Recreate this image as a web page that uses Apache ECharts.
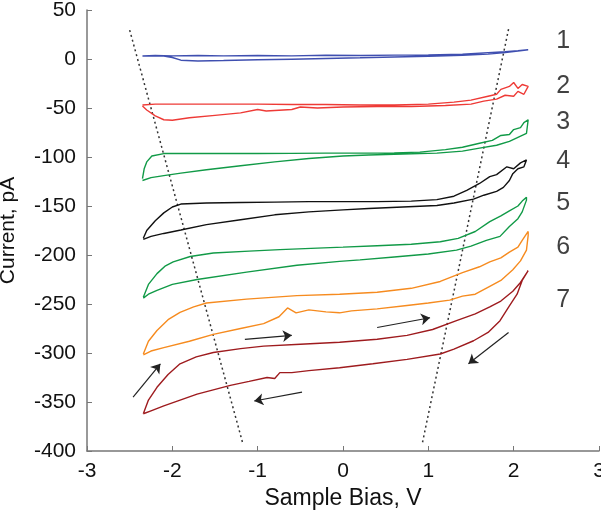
<!DOCTYPE html>
<html><head><meta charset="utf-8">
<script src="https://cdn.jsdelivr.net/npm/echarts@6/dist/echarts.min.js"></script>
<style>html,body{margin:0;padding:0;background:#fff}#c{width:601px;height:512px}</style>
</head><body><div id="c"></div>
<script>
const xTicks = [-3,-2,-1,0,1,2,3];
const yTicks = [50,0,-50,-100,-150,-200,-250,-300,-350,-400];

const curve1Upper = [[-2.35,3],[-2.2,3.5],[-2.0,3.2],[-1.7,3.5],[-1.4,3.2],[-1.0,3.6],[-0.6,3.2],[-0.2,3.8],[0.2,3.5],[0.6,4],[1.0,4.2],[1.4,5],[1.7,6.5],[1.9,7.5],[2.05,8.5],[2.17,9.5]];
const curve1Lower = [[2.17,9.5],[2.05,8],[1.9,6.5],[1.7,5],[1.4,3.8],[1.0,2.8],[0.6,2],[0.2,1.2],[-0.2,0.5],[-0.6,-0.2],[-1.0,-0.8],[-1.4,-1.5],[-1.7,-2],[-1.9,-1.2],[-2.0,1.5],[-2.1,3],[-2.35,3]];

const curve2Upper = [[-2.35,-47],[-2.2,-46],[-1.8,-46],[-1.4,-46],[-1.0,-46],[-0.6,-46.5],[-0.2,-46.5],[0.2,-47],[0.6,-47],[1.0,-46],[1.3,-44],[1.5,-42],[1.7,-38],[1.8,-36],[1.85,-31],[1.95,-28],[2.0,-24],[2.05,-30],[2.1,-26],[2.17,-28]];
const curve2Lower = [[2.17,-30],[2.12,-36],[2.05,-33],[2.0,-38],[1.9,-37],[1.8,-41],[1.65,-43],[1.5,-46],[1.2,-47.5],[0.8,-48.5],[0.4,-48.5],[0,-49],[-0.3,-50],[-0.5,-49],[-0.6,-51.5],[-0.9,-53],[-1.0,-51.5],[-1.2,-55],[-1.5,-57.5],[-1.8,-60],[-2.0,-62.5],[-2.1,-62],[-2.2,-58],[-2.3,-52],[-2.35,-48]];

const curve3Upper = [[-2.35,-122],[-2.33,-112],[-2.3,-105],[-2.24,-99],[-2.1,-96.5],[-1.8,-96.5],[-1.4,-96.5],[-1.0,-96.5],[-0.6,-96.3],[-0.2,-96],[0.2,-96],[0.6,-95.8],[0.9,-95],[1.2,-92.5],[1.4,-90],[1.6,-86],[1.75,-83],[1.85,-78],[1.95,-77],[2.0,-72],[2.08,-70],[2.12,-65],[2.17,-62]];
const curve3Lower = [[2.17,-64],[2.15,-76],[2.05,-80],[1.95,-84],[1.8,-88],[1.6,-91],[1.4,-94],[1.1,-96],[0.7,-97],[0.3,-98],[0,-99],[-0.4,-101.5],[-0.8,-105],[-1.2,-109],[-1.6,-113],[-1.9,-116.5],[-2.1,-119],[-2.25,-121],[-2.35,-124]];

const curve4Upper = [[-2.34,-183],[-2.3,-175],[-2.2,-165],[-2.1,-157],[-2.0,-151],[-1.9,-148],[-1.6,-147],[-1.2,-146.5],[-0.8,-146],[-0.4,-145.5],[0,-145.5],[0.4,-145.5],[0.8,-145],[1.1,-143.5],[1.3,-140],[1.45,-134],[1.6,-127],[1.72,-120],[1.8,-118],[1.92,-110],[2.0,-112],[2.08,-106],[2.15,-103]];
const curve4Lower = [[2.15,-104],[2.12,-110],[2.05,-112],[1.99,-117],[1.95,-124],[1.88,-131],[1.8,-135],[1.65,-139],[1.53,-143],[1.3,-147],[1.1,-149.5],[0.7,-151],[0.3,-152.5],[0,-154],[-0.4,-156],[-0.8,-159],[-1.2,-164],[-1.6,-169],[-1.9,-174.5],[-2.1,-178],[-2.25,-181],[-2.34,-184]];

const curve5Upper = [[-2.34,-243],[-2.28,-230],[-2.18,-219],[-2.08,-211],[-1.99,-207],[-1.79,-201.5],[-1.52,-198],[-1.1,-196],[-0.74,-194.5],[-0.3,-193],[0,-192],[0.4,-190.5],[0.8,-189],[1.14,-186.5],[1.35,-183],[1.55,-176],[1.72,-166],[1.85,-160],[1.95,-155],[2.05,-150],[2.1,-145],[2.15,-141]];
const curve5Lower = [[2.15,-144],[2.1,-156],[2.05,-163],[1.95,-171],[1.84,-181],[1.68,-185],[1.5,-191],[1.33,-195],[1.0,-199],[0.6,-202],[0.2,-205],[-0.04,-206.5],[-0.54,-210.5],[-1.13,-217.5],[-1.71,-225],[-2.0,-230],[-2.18,-236],[-2.28,-240],[-2.34,-244]];

const curve6Upper = [[-2.34,-301],[-2.28,-288],[-2.18,-277],[-2.05,-266],[-1.91,-258.5],[-1.75,-253],[-1.6,-249],[-1.13,-245],[-0.54,-241.5],[-0.04,-240],[0.4,-238],[0.8,-234],[1.14,-227],[1.4,-218],[1.6,-212],[1.72,-207],[1.85,-203],[1.95,-197],[2.05,-192],[2.1,-185],[2.17,-176]];
const curve6Lower = [[2.17,-180],[2.15,-195],[2.08,-206],[1.99,-215],[1.85,-226],[1.72,-232],[1.55,-240],[1.4,-242],[1.25,-246],[1.0,-249],[0.75,-251.5],[0.4,-255],[0.1,-257],[-0.04,-259],[-0.2,-258],[-0.4,-256],[-0.55,-259],[-0.65,-254],[-0.75,-263],[-0.93,-270],[-1.2,-275],[-1.52,-281],[-1.8,-288],[-2.1,-294.5],[-2.25,-298],[-2.34,-302]];

const curve7Upper = [[-2.34,-362],[-2.28,-348],[-2.18,-335],[-2.05,-322],[-1.91,-311],[-1.72,-304],[-1.52,-299.5],[-1.2,-295.5],[-0.93,-293],[-0.5,-291],[-0.04,-289],[0.4,-286],[0.75,-282],[1.05,-276],[1.33,-267],[1.55,-260],[1.72,-253],[1.85,-247],[1.99,-237],[2.08,-228],[2.17,-216]];
const curve7Lower = [[2.17,-216],[2.1,-226],[2.04,-240],[1.95,-252],[1.84,-267],[1.7,-279],[1.53,-287.5],[1.3,-296],[1.14,-301],[0.75,-306.5],[0.35,-311],[-0.04,-315],[-0.4,-318],[-0.6,-320],[-0.74,-320],[-0.8,-326],[-0.89,-325],[-1.1,-329],[-1.32,-333],[-1.71,-342],[-2.1,-354],[-2.25,-359],[-2.34,-362]];

const leftGuide = [[-2.5,29.5],[-1.175,-392]];
const rightGuide = [[1.94,30.5],[0.93,-392]];

const arrows = [
  [[-2.46,-345],[-2.14,-311]],
  [[-1.15,-286],[-0.6,-282]],
  [[0.4,-274],[1.02,-264]],
  [[1.94,-279],[1.47,-311]],
  [[-0.48,-340],[-1.04,-349]]
];

const curveNames = ['1','2','3','4','5','6','7'];
const labelX = 2.58;
const labelY = [18.5,-27.6,-64.9,-104.6,-146.9,-191.7,-246.4];

const curveColors = ['#3f4fb0','#ee3a36','#119a47','#111111','#119a47','#f68b1f','#9e1b1e'];
const uppers = [curve1Upper,curve2Upper,curve3Upper,curve4Upper,curve5Upper,curve6Upper,curve7Upper];
const lowers = [curve1Lower,curve2Lower,curve3Lower,curve4Lower,curve5Lower,curve6Lower,curve7Lower];

const FONT = 'Liberation Sans';
const series = [];
uppers.forEach((u,i)=>{
  series.push({type:'line', data:u.concat(lowers[i]), showSymbol:false, symbol:'none',
    lineStyle:{color:curveColors[i], width:1.4}, animation:false, z:3});
});
[leftGuide,rightGuide].forEach(g=>{
  series.push({type:'line', data:g, symbol:'none', lineStyle:{color:'#333', width:1.5, type:[2,3]}, animation:false, z:2});
});
series.push({type:'lines', coordinateSystem:'cartesian2d', symbol:['none','arrow'], symbolSize:9,
  lineStyle:{color:'#222', width:1.2, opacity:1}, data:arrows.map(a=>({coords:a})), animation:false, z:4});
series.push({type:'scatter', symbolSize:0, data:labelY.map((y,i)=>({value:[labelX,y], name:curveNames[i]})),
  label:{show:true, position:'inside', formatter:p=>p.name, fontFamily:FONT, fontSize:25, color:'#111'}, animation:false, z:5});

const chart = echarts.init(document.getElementById('c'), null, {renderer:'canvas'});
chart.setOption({
  backgroundColor:'#fff',
  animation:false,
  grid:{left:87, right:2, top:10, bottom:61, containLabel:false, outerBoundsMode:'none'},
  xAxis:{type:'value', min:-3, max:3, interval:1,
    name:'Sample Bias, V', nameLocation:'middle', nameGap:34,
    nameTextStyle:{fontFamily:FONT, fontSize:23, color:'#111'},
    axisLine:{onZero:false, lineStyle:{color:'#777', width:1.5}},
    axisTick:{inside:true, length:5, lineStyle:{color:'#777'}},
    axisLabel:{fontFamily:FONT, fontSize:21, color:'#111', margin:10, formatter:v=>xTicks.includes(v)?String(v):''},
    splitLine:{show:false}},
  yAxis:{type:'value', min:-400, max:50, interval:50,
    name:'Current, pA', nameLocation:'middle', nameGap:68,
    nameTextStyle:{fontFamily:FONT, fontSize:21, color:'#111'},
    axisLine:{onZero:false, lineStyle:{color:'#777', width:1.5}},
    axisTick:{inside:true, length:5, lineStyle:{color:'#777'}},
    axisLabel:{fontFamily:FONT, fontSize:21, color:'#111', margin:11, formatter:v=>yTicks.includes(v)?String(v):''},
    splitLine:{show:false}},
  series:series
});
</script></body></html>
